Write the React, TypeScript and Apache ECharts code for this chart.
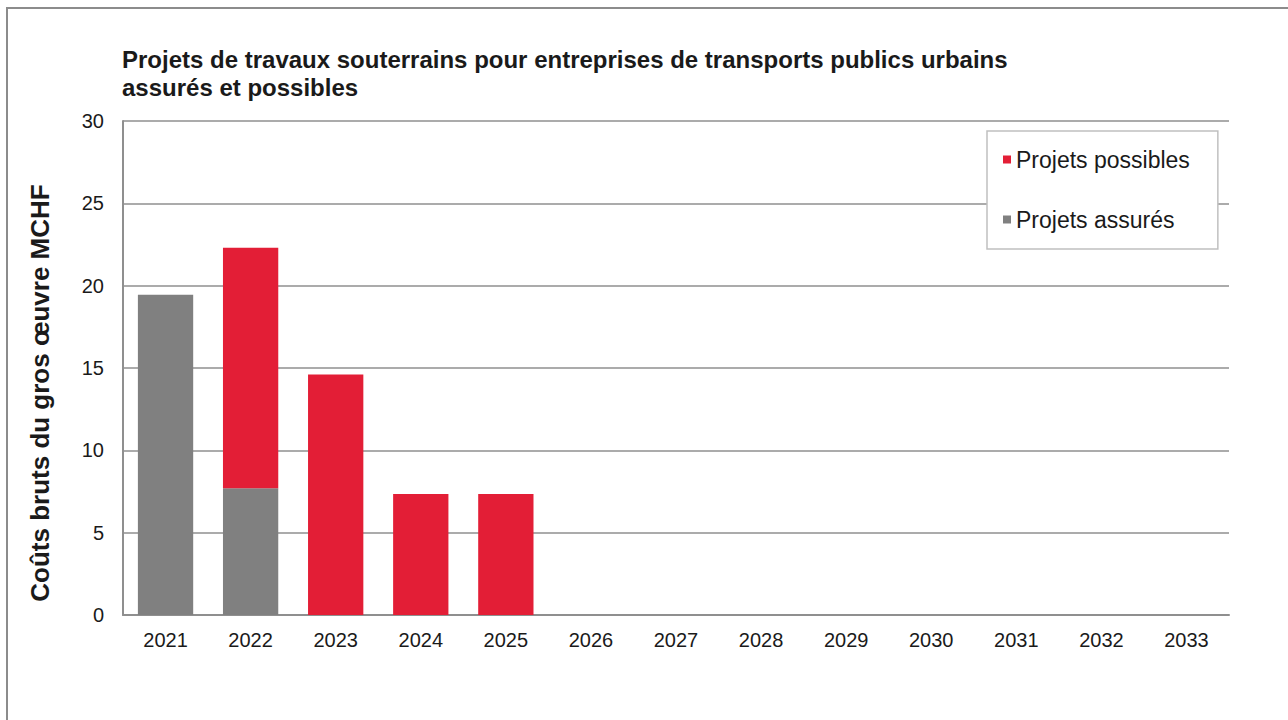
import React, { useEffect, useRef } from "react";
import * as echarts from "echarts";

// Years on the horizontal axis
const years = [
  "2021", "2022", "2023", "2024", "2025", "2026", "2027",
  "2028", "2029", "2030", "2031", "2032", "2033",
];

// Secured projects (bottom of each stack), MCHF
const assures = [19.45, 7.7, 0, 0, 0, 0, 0, 0, 0, 0, 0, 0, 0];

// Possible projects (stacked on top), MCHF
const possibles = [0, 14.6, 14.6, 7.35, 7.35, 0, 0, 0, 0, 0, 0, 0, 0];

const titleText =
  "Projets de travaux souterrains pour entreprises de transports publics urbains\nassurés et possibles";
const yAxisTitle = "Coûts bruts du gros œuvre MCHF";

const RED = "#e31e36";
const GREY = "#808080";
const FONT = "'Liberation Sans', Arial, sans-serif";

export default function App() {
  const ref = useRef<HTMLDivElement>(null);

  useEffect(() => {
    if (!ref.current) return;
    const chart = echarts.init(ref.current, null, { renderer: "svg" });
    chart.setOption({
      animation: false,
      backgroundColor: "#ffffff",
      textStyle: { fontFamily: FONT },
      title: {
        text: titleText,
        left: 117,
        top: 40,
        textStyle: {
          fontFamily: FONT,
          fontSize: 24,
          fontWeight: "bold",
          color: "#1a1a1a",
          lineHeight: 28,
        },
      },
      legend: {
        data: ["Projets possibles", "Projets assurés"],
        orient: "vertical",
        left: 987,
        top: 131,
        padding: [17, 28, 18, 16],
        itemGap: 37,
        itemWidth: 8,
        itemHeight: 8,
        icon: "rect",
        backgroundColor: "#ffffff",
        borderColor: "#c0c0c0",
        borderWidth: 1.5,
        textStyle: { fontFamily: FONT, fontSize: 23, color: "#1a1a1a" },
      },
      grid: { left: 123, right: 59, top: 121, bottom: 105, containLabel: false },
      xAxis: {
        type: "category",
        data: years,
        axisLine: { lineStyle: { color: "#8f8f8f", width: 2 } },
        axisTick: { show: false },
        axisLabel: { fontFamily: FONT, fontSize: 20, color: "#1a1a1a", margin: 15 },
      },
      yAxis: {
        type: "value",
        min: 0,
        max: 30,
        interval: 5,
        axisLine: { show: true, lineStyle: { color: "#8f8f8f", width: 2 } },
        axisTick: { show: false },
        splitLine: { lineStyle: { color: "#8f8f8f", width: 1.5 } },
        axisLabel: { fontFamily: FONT, fontSize: 20, color: "#1a1a1a", margin: 19 },
      },
      series: [
        {
          name: "Projets assurés",
          type: "bar",
          stack: "total",
          data: assures,
          barWidth: "65%",
          itemStyle: { color: GREY },
        },
        {
          name: "Projets possibles",
          type: "bar",
          stack: "total",
          data: possibles,
          barWidth: "65%",
          itemStyle: { color: RED },
        },
      ],
      graphic: [
        {
          type: "rect",
          silent: true,
          z: -10,
          shape: { x: 7, y: 8, width: 1320, height: 760 },
          style: { fill: "none", stroke: "#8c8c8c", lineWidth: 2 },
        },
        {
          type: "text",
          x: 40,
          y: 393,
          rotation: Math.PI / 2,
          style: {
            text: yAxisTitle,
            fontFamily: FONT,
            fontSize: 26,
            fontWeight: "bold",
            fill: "#1a1a1a",
            align: "center",
            verticalAlign: "middle",
          },
        },
      ],
    });
    return () => chart.dispose();
  }, []);

  return (
    <div
      ref={ref}
      style={{ position: "absolute", left: 0, top: 0, width: 1288, height: 720 }}
    />
  );
}
